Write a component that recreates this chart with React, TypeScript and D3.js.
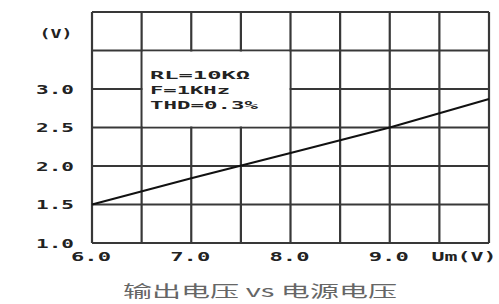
import React from "react";
import * as d3 from "d3";

const xTicks = [6.0, 7.0, 8.0, 9.0];
const xTickLabels = ["6.0", "7.0", "8.0", "9.0"];
const xUnitLabel = "Um(V)";
const yTicks = [1.0, 1.5, 2.0, 2.5, 3.0];
const yTickLabels = ["1.0", "1.5", "2.0", "2.5", "3.0"];
const yUnitLabel = "(V)";
const xGrid = [6.0, 6.5, 7.0, 7.5, 8.0, 8.5, 9.0, 9.5, 10.0];
const yGrid = [1.0, 1.5, 2.0, 2.5, 3.0, 3.5, 4.0];
const supplyV = [6.0, 7.0, 8.0, 9.0, 10.0];
const outputV = [1.5, 1.84, 2.17, 2.5, 2.87];
const noteLines = ["RL=10KΩ", "F=1KHz", "THD=0.3%"];
const title = "输出电压 vs 电源电压";

export default function App() {
  const W = 499, H = 304;
  const left = 92, right = 489, top = 12, bottom = 243;
  const x = d3.scaleLinear().domain([6, 10]).range([left, right]);
  const y = d3.scaleLinear().domain([1, 4]).range([bottom, top]);
  const line = d3.line<number>().x((_, i) => x(supplyV[i])).y((d) => y(d));
  const gridColor = "#383838";
  const tickFont = "'DejaVu Sans Mono', monospace";
  const boxX0 = x(6.5), boxX1 = x(8.0), boxY0 = y(3.5), boxY1 = y(2.5);
  return (
    <svg width={W} height={H} style={{ position: "absolute", left: 0, top: 0, background: "#fff" }}>
      <rect x={0} y={0} width={W} height={H} fill="#fff" />
      {xGrid.map((g, i) => (
        <line key={"xg" + i} x1={x(g)} x2={x(g)} y1={top} y2={bottom} stroke={gridColor} strokeWidth={2.2} />
      ))}
      {yGrid.map((g, i) => (
        <line key={"yg" + i} x1={left} x2={right} y1={y(g)} y2={y(g)} stroke={gridColor} strokeWidth={2.2} />
      ))}
      <rect x={boxX0 + 1.1} y={boxY0 + 1.1} width={boxX1 - boxX0 - 2.2} height={boxY1 - boxY0 - 2.2} fill="#fff" />
      <path d={line(outputV) || ""} fill="none" stroke="#111" strokeWidth={2} />
      {noteLines.map((t, i) => (
        <text
          key={"n" + i}
          x={150}
          y={79 + i * 15}
          fontFamily={tickFont}
          fontWeight="bold"
          fontSize={11}
          fill="#222"
          textLength={[100, 80, 108][i]}
          lengthAdjust="spacingAndGlyphs"
        >
          {t}
        </text>
      ))}
      {yTicks.map((v, i) => (
        <text
          key={"yt" + i}
          x={55}
          y={y(v) + 4.5}
          textAnchor="middle"
          fontFamily={tickFont}
          fontWeight="bold"
          fontSize={11.5}
          fill="#222"
          textLength={38}
          lengthAdjust="spacingAndGlyphs"
        >
          {yTickLabels[i]}
        </text>
      ))}
      <text x={56} y={38} textAnchor="middle" fontFamily={tickFont} fontWeight="bold" fontSize={11.5} fill="#222" textLength={33} lengthAdjust="spacingAndGlyphs">
        {yUnitLabel}
      </text>
      {xTicks.map((v, i) => (
        <text
          key={"xt" + i}
          x={x(v) - 1}
          y={261}
          textAnchor="middle"
          fontFamily={tickFont}
          fontWeight="bold"
          fontSize={11.5}
          fill="#222"
          textLength={40}
          lengthAdjust="spacingAndGlyphs"
        >
          {xTickLabels[i]}
        </text>
      ))}
      <text x={464} y={261} textAnchor="middle" fontFamily={tickFont} fontWeight="bold" fontSize={11.5} fill="#222" textLength={65} lengthAdjust="spacingAndGlyphs">
        {xUnitLabel}
      </text>
      <text
        x={260}
        y={297}
        textAnchor="middle"
        fontFamily="'Noto Sans CJK SC', sans-serif"
        fontSize={16}
        fill="#666"
        textLength={274}
        lengthAdjust="spacingAndGlyphs"
      >
        {title}
      </text>
    </svg>
  );
}
